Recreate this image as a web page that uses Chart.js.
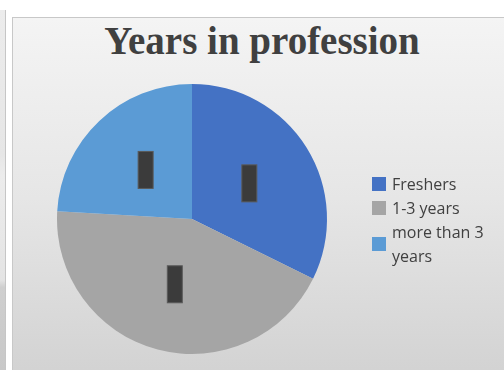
<!DOCTYPE html>
<html lang="en">

<head>
    <meta charset="UTF-8">
    <script src="https://cdn.jsdelivr.net/npm/chart.js"></script>
    <title>Years in profession</title>
    <style>
        body { margin: 0; width: 504px; height: 370px; overflow: hidden; background: #fff; position: relative; }
        .side-strip { position: absolute; left: 0; top: 10px; width: 5px; height: 360px; border-right: 1px solid #c6c6c6;
            background: linear-gradient(#ececec 0%, #e6e6e6 40%, #ececec 46%, #e4e4e4 75%, #cfcfcf 77%, #c8c8c8 100%); }
        .panel { position: absolute; left: 12px; top: 17px; width: 500px; height: 360px; border: 1px solid #c8c8c8;
            background: linear-gradient(#f4f4f4 0%, #e6e6e6 50%, #d2d2d2 100%); }
        #title { position: absolute; left: 12px; width: 500px; top: 21px; text-align: center;
            font: bold 39px/39px "Liberation Serif", "Times New Roman", serif; color: #404040; }
        canvas { position: absolute; left: 0; top: 0; }
        #legend { position: absolute; left: 372px; top: 172px; font: 16px/24px "Open Sans", sans-serif; color: #404040; }
        .item { display: flex; align-items: center; }
        .box { width: 14px; height: 14px; margin-right: 6px; flex: none; }
        .txt { width: 104px; }
    </style>
</head>

<body>
    <div class="side-strip"></div>
    <div class="panel"></div>
    <div id="title">Years in profession</div>
    <canvas id="pieChart" width="504" height="370"></canvas>
    <div id="legend"></div>

    <script>
        const labels = ['Freshers', '1-3 years', 'more than 3 years'];
        const values = [32.3, 43.6, 24.1];
        const colors = ['#4472C4', '#A5A5A5', '#5B9BD5'];

        // hidden data labels (drawn as dark boxes on each slice)
        const labelBoxes = {
            id: 'labelBoxes',
            afterDatasetsDraw(chart) {
                const ctx = chart.ctx;
                chart.getDatasetMeta(0).data.forEach(arc => {
                    const p = arc.tooltipPosition();
                    ctx.save();
                    ctx.fillStyle = '#3b3b3b';
                    ctx.strokeStyle = '#5a5a5a';
                    ctx.lineWidth = 1;
                    ctx.fillRect(p.x - 7.5, p.y - 18.5, 15, 37);
                    ctx.strokeRect(p.x - 7.5, p.y - 18.5, 15, 37);
                    ctx.restore();
                });
            }
        };

        new Chart(document.getElementById('pieChart'), {
            type: 'pie',
            data: {
                labels: labels,
                datasets: [{
                    data: values,
                    backgroundColor: colors,
                    borderWidth: 0,
                    hoverOffset: 0
                }]
            },
            options: {
                responsive: false,
                animation: false,
                layout: { padding: { left: 57, right: 177, top: 84, bottom: 16 } },
                plugins: {
                    legend: { display: false },
                    title: { display: false },
                    tooltip: { enabled: false }
                }
            },
            plugins: [labelBoxes]
        });

        const legend = document.getElementById('legend');
        labels.forEach((name, i) => {
            const row = document.createElement('div');
            row.className = 'item';
            row.innerHTML = `<span class="box" style="background:${colors[i]}"></span><span class="txt">${name}</span>`;
            legend.appendChild(row);
        });
    </script>
</body>

</html>
